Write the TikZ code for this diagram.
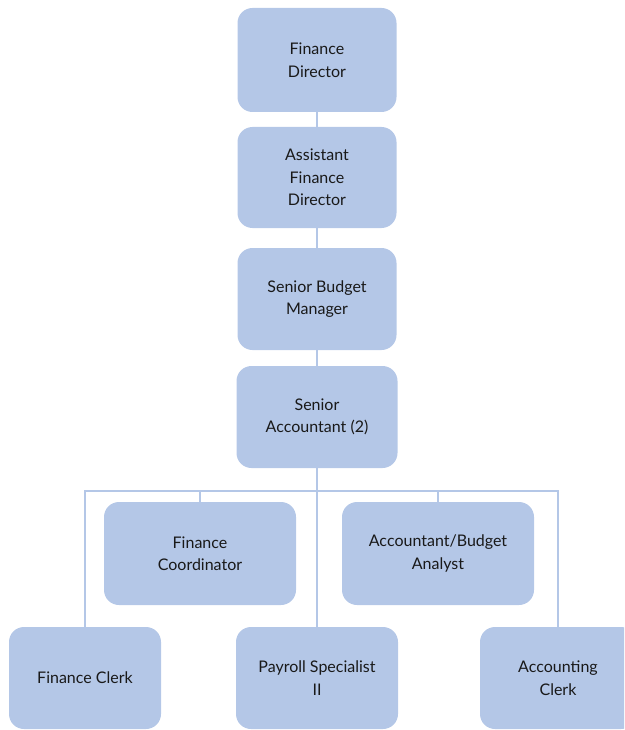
\documentclass[tikz,border=0pt]{standalone}
\usepackage{fontspec}
\setmainfont{Lato}
\definecolor{boxblue}{HTML}{B4C7E7}
\definecolor{lineblue}{HTML}{B4C7E7}
\begin{document}
\begin{tikzpicture}[x=1pt,y=-1pt,
  orgbox/.style={draw=none,fill=boxblue,rounded corners=15pt,align=center,
    font=\fontsize{16}{22.5}\selectfont,text=black!90,inner sep=0pt},
  conn/.style={draw=lineblue,line width=1.8pt}]
\clip (0,0) rectangle (624,730);
\useasboundingbox (0,0) rectangle (624,730);
\node[orgbox,minimum width=159pt,minimum height=104pt] (fd) at (317,60) {Finance\\Director};
\node[orgbox,minimum width=159pt,minimum height=101pt] (afd) at (317,177.5) {Assistant\\Finance\\Director};
\node[orgbox,minimum width=159pt,minimum height=102pt] (sbm) at (317,299) {Senior Budget\\Manager};
\node[orgbox,minimum width=161pt,minimum height=102pt] (sa) at (317,417) {Senior\\Accountant (2)};
\node[orgbox,minimum width=192pt,minimum height=103pt] (fc) at (200,553.5) {Finance\\Coordinator};
\node[orgbox,minimum width=192pt,minimum height=103pt] (aba) at (438,553.5) {Accountant/Budget\\Analyst};
\node[orgbox,minimum width=152pt,minimum height=102pt] (fcl) at (85,678) {Finance Clerk};
\node[orgbox,minimum width=162pt,minimum height=102pt] (ps) at (317,678) {Payroll Specialist\\II};
\node[orgbox,minimum width=156pt,minimum height=102pt] (acl) at (558,678) {Accounting\\Clerk};
\coordinate (bus) at (317,491);
\path[conn] (fd.south) -- (afd.north);
\path[conn] (afd.south) -- (sbm.north);
\path[conn] (sbm.south) -- (sa.north);
\path[conn] (sa.south) -- (ps.north);
\path[conn] (fcl.north) |- (bus) -| (acl.north);
\path[conn] (fc.north) -- (fc.north |- bus);
\path[conn] (aba.north) -- (aba.north |- bus);
\end{tikzpicture}
\end{document}
